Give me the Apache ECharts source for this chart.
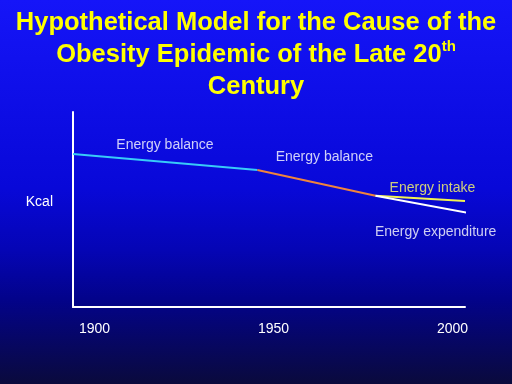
<!DOCTYPE html>
<html>
<head>
<meta charset="utf-8">
<script src="https://cdn.jsdelivr.net/npm/echarts@6/dist/echarts.min.js"></script>
<style>
  html, body { margin: 0; padding: 0; }
  #chart { width: 512px; height: 384px; }
</style>
</head>
<body>
<div id="chart"></div>
<script>
// ---- data ----
var xTickLabels = [1900, 1950, 2000];
var balanceEarly = [[1894, 78.5], [1945.5, 70.3]];
var balanceLate = [[1945.5, 70.3], [1978.5, 57.0]];
var energyIntake = [[1978.5, 57.0], [2003.5, 54.4]];
var energyExpenditure = [[1978.5, 57.0], [2004.7, 48.2]];
var annotationTexts = ['Energy balance', 'Energy balance', 'Energy intake', 'Energy expenditure'];
var annotationCoords = [[1919.7, 83.1], [1964.2, 76.9], [1994.4, 61.0], [1995.3, 38.2]];
var yAxisName = 'Kcal';
var titleText = 'Hypothetical Model for the Cause of the\nObesity Epidemic of the Late 20{sup|th}\nCentury';

var FONT = '"Liberation Sans", Arial, sans-serif';
var annColors = ['#FFFFFF', '#FFFFFF', '#FFFF66', '#FFFFFF'];

var chart = echarts.init(document.getElementById('chart'));

function lineSeries(name, data, color) {
  return {
    name: name, type: 'line', data: data, symbol: 'none', clip: false,
    lineStyle: { color: color, width: 2 }, silent: true, animation: false
  };
}

var option = {
  animation: false,
  backgroundColor: {
    type: 'linear', x: 0, y: 0, x2: 0, y2: 1,
    colorStops: [
      { offset: 0, color: '#1515F8' },
      { offset: 0.49, color: '#0808D8' },
      { offset: 0.65, color: '#0505B5' },
      { offset: 0.78, color: '#03038A' },
      { offset: 1, color: '#0A0A3C' }
    ]
  },
  title: {
    text: titleText,
    left: 'center',
    top: 7,
    padding: 0,
    textStyle: {
      color: '#FFFF00', fontSize: 25.5, fontWeight: 'bold', fontFamily: FONT, lineHeight: 32,
      rich: {
        sup: { color: '#FFFF00', fontSize: 15, fontWeight: 'bold', fontFamily: FONT, verticalAlign: 'top', lineHeight: 32 }
      }
    }
  },
  grid: { left: 73, right: 47, top: 112, bottom: 77, containLabel: false },
  xAxis: {
    type: 'value', min: 1894, max: 2003.5,
    axisLine: { show: true, lineStyle: { color: '#FFFFFF', width: 2 } },
    axisTick: { show: false },
    splitLine: { show: false },
    axisLabel: {
      customValues: xTickLabels,
      formatter: function (v) { return String(v); },
      color: '#FFFFFF', fontSize: 14, fontFamily: FONT, margin: 15
    }
  },
  yAxis: {
    type: 'value', min: 0, max: 100,
    name: yAxisName, nameLocation: 'middle', nameRotate: 0, nameGap: 20,
    nameTextStyle: { color: '#FFFFFF', fontSize: 14, fontFamily: FONT, verticalAlign: 'bottom' },
    axisLine: { show: true, lineStyle: { color: '#FFFFFF', width: 2 } },
    axisTick: { show: false },
    axisLabel: { show: false },
    splitLine: { show: false }
  },
  series: [
    lineSeries('Energy balance', balanceEarly, '#38CCF8'),
    lineSeries('Energy balance 2', balanceLate, '#F0843C'),
    lineSeries('Energy intake', energyIntake, '#F2F250'),
    lineSeries('Energy expenditure', energyExpenditure, '#FFFFFF'),
    {
      type: 'scatter', symbolSize: 0, silent: true, clip: false,
      data: annotationCoords.map(function (c, i) {
        return {
          value: c, name: annotationTexts[i],
          label: { color: annColors[i] }
        };
      }),
      label: {
        show: true, position: 'inside', formatter: '{b}',
        fontSize: 14, fontFamily: FONT, color: '#FFFFFF'
      }
    }
  ]
};
chart.setOption(option);
</script>
</body>
</html>
